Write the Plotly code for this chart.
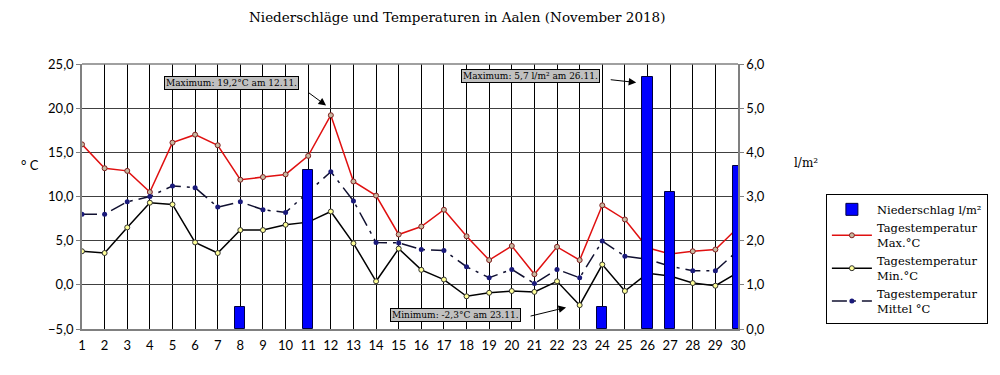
import plotly.graph_objects as go

days = list(range(1, 31))
niederschlag = [0, 0, 0, 0, 0, 0, 0, 0.5, 0, 0, 3.6, 0, 0, 0, 0, 0, 0, 0, 0, 0,
                0, 0, 0, 0.5, 0, 5.7, 3.1, 0, 0, 3.7]
t_max = [15.9, 13.2, 12.9, 10.5, 16.1, 17.0, 15.8, 11.9, 12.2, 12.5, 14.6, 19.2, 11.7, 10.1, 5.7,
         6.6, 8.5, 5.5, 2.8, 4.4, 1.2, 4.3, 2.8, 9.0, 7.4, 4.2, 3.5, 3.8, 4.0, 6.5]
t_min = [3.8, 3.6, 6.5, 9.3, 9.1, 4.8, 3.6, 6.2, 6.2, 6.8, 7.1, 8.3, 4.7, 0.4, 4.1,
         1.7, 0.6, -1.3, -0.9, -0.7, -0.8, 0.4, -2.3, 2.3, -0.7, 1.3, 1.0, 0.2, -0.1, 1.4]
t_mittel = [8.0, 8.0, 9.4, 10.0, 11.2, 11.0, 8.8, 9.4, 8.5, 8.2, 10.5, 12.8, 9.5, 4.8, 4.75,
            4.0, 3.9, 2.05, 0.8, 1.75, 0.15, 1.75, 0.8, 4.95, 3.25, 2.9, 2.1, 1.6, 1.6, 3.9]

temp_ticks = [-5, 0, 5, 10, 15, 20, 25]
rain_ticks = [0, 1, 2, 3, 4, 5, 6]

SERIF = "DejaVu Serif"
SANS = "Lato"

# days without rain get no bar (avoids outline stubs on zero-height bars)
rain_plot = [v if v > 0 else None for v in niederschlag]

fig = go.Figure()

fig.add_trace(go.Bar(
    x=days, y=rain_plot, yaxis="y2", name="Niederschlag l/m²",
    marker=dict(color="#0000ff", line=dict(color="#000040", width=1)),
    width=0.45, legendrank=1,
))
fig.add_trace(go.Scatter(
    x=days, y=t_max, mode="lines+markers", name="Tagestemperatur<br>Max.°C",
    line=dict(color="#e01010", width=1.5),
    marker=dict(size=5, color="#c8b8a0", line=dict(color="#802020", width=1)),
    legendrank=2,
))
fig.add_trace(go.Scatter(
    x=days, y=t_min, mode="lines+markers", name="Tagestemperatur<br>Min.°C",
    line=dict(color="#000000", width=1.5),
    marker=dict(size=5, color="#ffff99", line=dict(color="#303030", width=1)),
    legendrank=3,
))
fig.add_trace(go.Scatter(
    x=days, y=t_mittel, mode="lines+markers", name="Tagestemperatur<br>Mittel °C",
    line=dict(color="#101030", width=1.5, dash="longdashdot"),
    marker=dict(size=5, color="#1a1a7a"),
    legendrank=4,
))

fig.update_layout(
    width=992, height=367,
    margin=dict(l=74, r=260, t=56, b=46),
    paper_bgcolor="white", plot_bgcolor="white",
    separators=",.",
    showlegend=True,
    bargap=0,
    legend=dict(
        x=1.134, y=0.51, xanchor="left", yanchor="top",
        bordercolor="black", borderwidth=1, bgcolor="white",
        font=dict(family=SERIF, size=11.5, color="black"),
        traceorder="normal", itemwidth=40, tracegroupgap=7,
    ),
    xaxis=dict(
        range=[1, 30], tickmode="array", tickvals=days, ticktext=[str(d) for d in days],
        showgrid=True, gridcolor="black", gridwidth=1,
        showline=True, linecolor="#808080", linewidth=1.5,
        ticks="", zeroline=False, ticklabelstandoff=4,
        tickfont=dict(family=SANS, size=13, color="black"),
    ),
    yaxis=dict(
        range=[-5, 25], tickvals=temp_ticks, tickformat=".1f",
        showgrid=True, gridcolor="#404040", gridwidth=1,
        showline=True, linecolor="#808080", linewidth=1.5, mirror=False,
        ticks="outside", ticklen=4, tickcolor="#808080",
        zeroline=False,
        tickfont=dict(family=SANS, size=13, color="black"),
    ),
    yaxis2=dict(
        range=[0, 6], tickvals=rain_ticks, tickformat=".1f",
        overlaying="y", side="right", showgrid=False,
        showline=True, linecolor="#808080", linewidth=1.5,
        ticks="outside", ticklen=4, tickcolor="#808080",
        zeroline=False,
        tickfont=dict(family=SANS, size=13, color="black"),
    ),
    shapes=[dict(type="line", xref="paper", yref="paper", x0=0, x1=1, y0=1, y1=1,
                 line=dict(color="#808080", width=1.5))],
)

annotations = [
    dict(text="Niederschläge und Temperaturen in Aalen (November 2018)", xref="paper", yref="paper",
         x=0.571, y=1.0, yshift=47, showarrow=False, xanchor="center", yanchor="middle",
         font=dict(family=SERIF, size=13.5, color="black")),
    dict(text="° C", xref="paper", yref="paper", x=-0.08, y=0.62, showarrow=False,
         xanchor="center", yanchor="middle", font=dict(family=SANS, size=13, color="black")),
    dict(text="l/m²", xref="paper", yref="paper", x=1.103, y=0.625, showarrow=False,
         xanchor="center", yanchor="middle", font=dict(family=SERIF, size=12, color="black")),
    # boxes
    dict(text="Maximum: 19,2°C am 12.11.", x=7.59, y=22.8, xref="x", yref="y", showarrow=False,
         bgcolor="#c0c0c0", bordercolor="black", borderwidth=1, borderpad=1,
         font=dict(family=SERIF, size=9, color="black")),
    dict(text="Maximum: 5,7 l/m² am 26.11.", x=20.83, y=23.6, xref="x", yref="y", showarrow=False,
         bgcolor="#c0c0c0", bordercolor="black", borderwidth=1, borderpad=1,
         font=dict(family=SERIF, size=9, color="black")),
    dict(text="Minimum: -2,3°C am 23.11.", x=17.51, y=-3.46, xref="x", yref="y", showarrow=False,
         bgcolor="#c0c0c0", bordercolor="black", borderwidth=1, borderpad=1,
         font=dict(family=SERIF, size=9, color="black")),
    # arrows
    dict(text="", x=11.79, y=20.3, xref="x", yref="y", ax=-19, ay=-14, showarrow=True,
         arrowhead=2, arrowsize=1.5, arrowwidth=1, arrowcolor="black"),
    dict(text="", x=25.5, y=5.58, xref="x", yref="y2", ax=-27, ay=-3, showarrow=True,
         arrowhead=2, arrowsize=1.5, arrowwidth=1, arrowcolor="black"),
    dict(text="", x=22.4, y=-2.56, xref="x", yref="y", ax=-37, ay=9, showarrow=True,
         arrowhead=2, arrowsize=1.5, arrowwidth=1, arrowcolor="black"),
]
fig.update_layout(annotations=annotations)

fig.write_html("out.html")
